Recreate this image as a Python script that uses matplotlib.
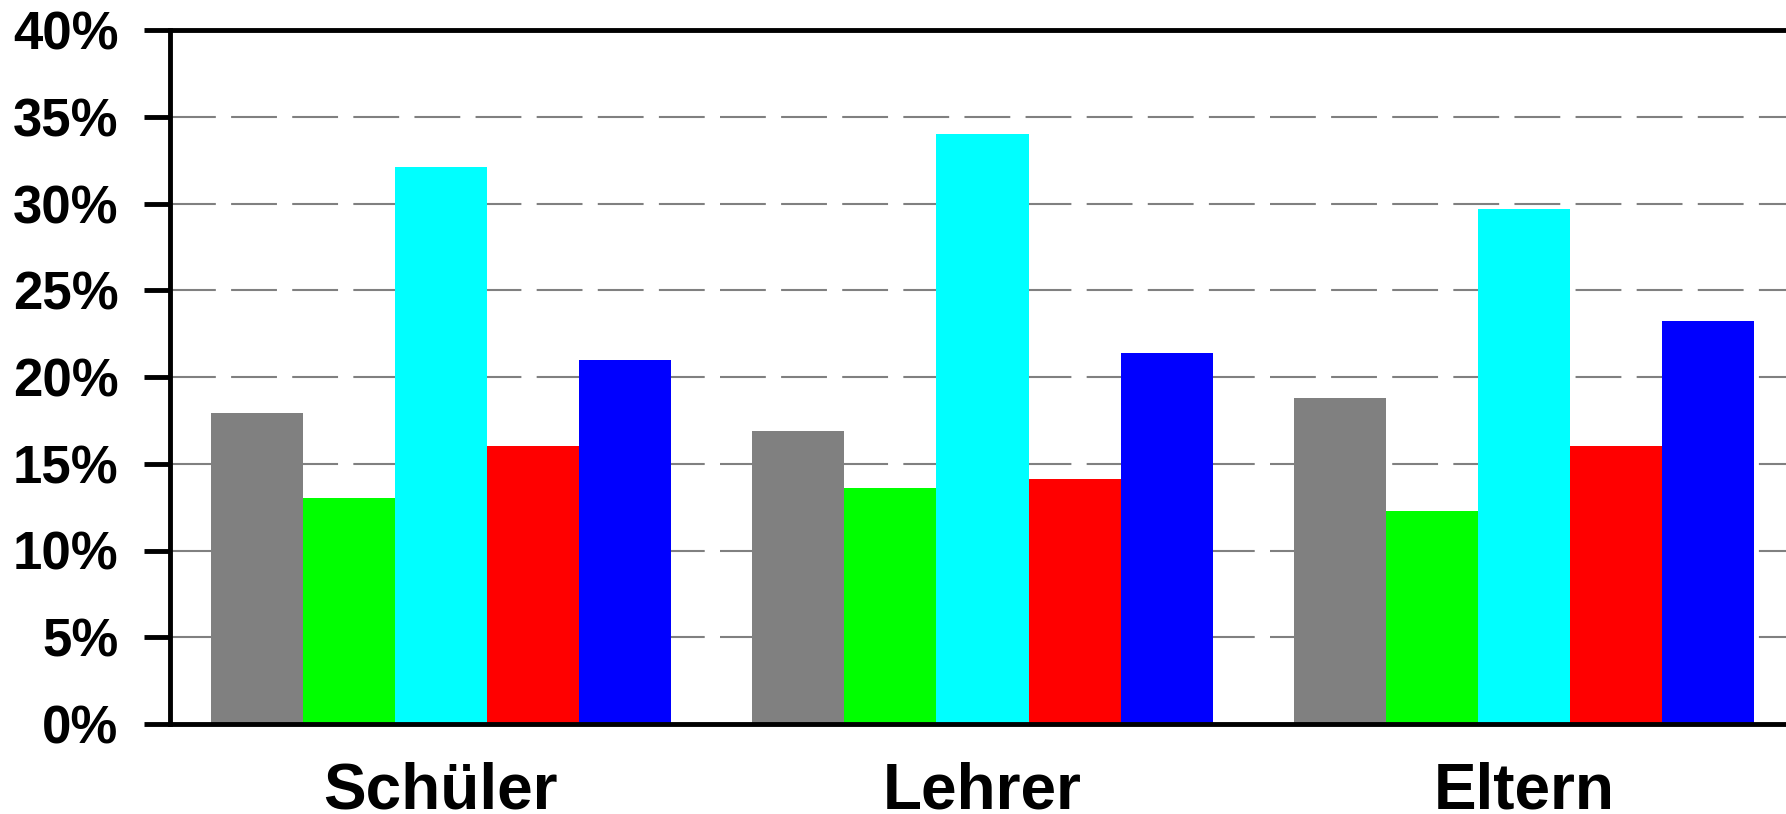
import matplotlib
matplotlib.use("Agg")
from matplotlib import pyplot as plt
from matplotlib.ticker import FuncFormatter
import numpy as np

matplotlib.rcParams['font.family'] = ['Liberation Sans', 'DejaVu Sans']
matplotlib.rcParams['font.weight'] = 'bold'
matplotlib.rcParams['lines.scale_dashes'] = False

groups = ["Schüler", "Lehrer", "Eltern"]
grau = [17.9, 16.9, 18.8]
gruen = [13.0, 13.6, 12.3]
tuerkis = [32.1, 34.0, 29.7]
rot = [16.0, 14.1, 16.0]
blau = [21.0, 21.4, 23.2]
series = [grau, gruen, tuerkis, rot, blau]
colors = ["#808080", "#00ff00", "#00ffff", "#ff0000", "#0000ff"]

fig = plt.figure(figsize=(17.86, 8.14), dpi=100)
# die Achse reicht etwas über den rechten Rand hinaus
ax = fig.add_axes([170/1786, 90/814, 1625/1786, (724-30)/814])

x = np.arange(len(groups))
w = 0.17
for i, (vals, c) in enumerate(zip(series, colors)):
    ax.bar(x + (i - 2) * w, vals, w, color=c, zorder=2)

ax.set_xlim(-0.5, 2.5)
ax.set_ylim(0, 40)
ax.set_yticks(range(0, 41, 5))
ax.yaxis.set_major_formatter(FuncFormatter(lambda v, p: "%d%%" % v))
ax.set_xticks(x)
ax.set_xticklabels(groups, fontsize=46, fontweight='bold')

ax.yaxis.grid(True, color="#808080", linewidth=1.5, linestyle=(0, (33, 11)), zorder=1)
ax.set_axisbelow(True)

for s in ["left", "top", "bottom"]:
    ax.spines[s].set_linewidth(3.5)
    ax.spines[s].set_color("black")
ax.spines["right"].set_visible(False)

ax.tick_params(axis='y', length=19, width=3.5, pad=18, labelsize=38)
ax.tick_params(axis='x', length=0, pad=27)

plt.savefig("out.png", dpi=100)
